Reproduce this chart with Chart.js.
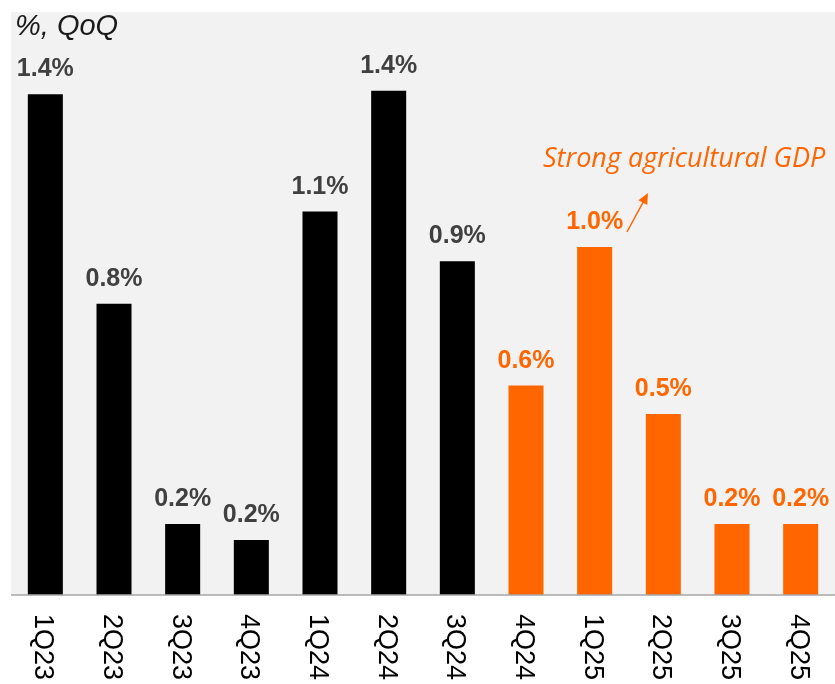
<!DOCTYPE html>
<html>
<head>
<meta charset="utf-8">
<title>GDP growth, QoQ</title>
<script src="https://cdn.jsdelivr.net/npm/chart.js@4/dist/chart.umd.min.js"></script>
<style>
    html, body { margin: 0; padding: 0; background: #ffffff; }
    #wrap { width: 835px; height: 684px; position: relative; }
</style>
</head>
<body>
<div id="wrap"><canvas id="gdp-chart"></canvas></div>
<script>
// Quarterly growth, % QoQ
const quarters = ['1Q23', '2Q23', '3Q23', '4Q23', '1Q24', '2Q24', '3Q24', '4Q24', '1Q25', '2Q25', '3Q25', '4Q25'];
const growth = [1.41, 0.82, 0.20, 0.155, 1.08, 1.42, 0.94, 0.59, 0.98, 0.51, 0.20, 0.20];
// quarters from 4Q24 on are highlighted
const highlightFrom = 7;
const yMin = 0;
const yMax = 1.642;

const BLACK = '#000000';
const ORANGE = '#ff6600';
const LABEL_GREY = '#404040';

const barColors = growth.map((v, i) => i >= highlightFrom ? ORANGE : BLACK);
const labelColors = growth.map((v, i) => i >= highlightFrom ? ORANGE : LABEL_GREY);

// Grey plot background
const plotBackground = {
    id: 'plotBackground',
    beforeDraw(chart) {
        const { ctx, chartArea } = chart;
        ctx.save();
        ctx.fillStyle = '#f2f2f2';
        ctx.fillRect(chartArea.left, chartArea.top, chartArea.right - chartArea.left, chartArea.bottom - chartArea.top);
        ctx.restore();
    }
};

// Value labels, axis line, rotated quarter labels and the note
const annotations = {
    id: 'annotations',
    afterDatasetsDraw(chart) {
        const { ctx, chartArea } = chart;
        const xScale = chart.scales.x;
        const meta = chart.getDatasetMeta(0);

        ctx.save();

        // baseline
        ctx.strokeStyle = '#a6a6a6';
        ctx.lineWidth = 1.5;
        ctx.beginPath();
        ctx.moveTo(chartArea.left, chartArea.bottom);
        ctx.lineTo(chartArea.right, chartArea.bottom);
        ctx.stroke();

        // values above bars
        ctx.font = 'bold 25px "Liberation Sans", Arial, sans-serif';
        ctx.textAlign = 'center';
        ctx.textBaseline = 'alphabetic';
        meta.data.forEach((bar, i) => {
            ctx.fillStyle = labelColors[i];
            ctx.fillText(growth[i].toFixed(1) + '%', bar.x, bar.y - 18);
        });

        // quarter labels, turned clockwise
        ctx.font = '27px "Liberation Sans", Arial, sans-serif';
        ctx.fillStyle = '#000000';
        ctx.textAlign = 'left';
        quarters.forEach((q, i) => {
            const px = xScale.getPixelForTick(i);
            ctx.save();
            ctx.translate(px - 10, chartArea.bottom + 19);
            ctx.rotate(Math.PI / 2);
            ctx.fillText(q, 0, 0);
            ctx.restore();
        });

        // unit title
        ctx.font = 'italic 29px "Liberation Sans", Arial, sans-serif';
        ctx.fillStyle = '#1a1a1a';
        ctx.fillText('%, QoQ', 15, 35);

        // note on 1Q25
        ctx.font = 'italic 27px "Open Sans", sans-serif';
        ctx.fillStyle = ORANGE;
        ctx.fillText('Strong agricultural GDP', 543, 167);

        // arrow pointing to the note
        const from = { x: 627, y: 232 };
        const to = { x: 648, y: 193 };
        const ang = Math.atan2(to.y - from.y, to.x - from.x);
        ctx.strokeStyle = ORANGE;
        ctx.lineWidth = 1.5;
        ctx.beginPath();
        ctx.moveTo(from.x, from.y);
        ctx.lineTo(to.x - 8 * Math.cos(ang), to.y - 8 * Math.sin(ang));
        ctx.stroke();
        ctx.beginPath();
        ctx.moveTo(to.x, to.y);
        ctx.lineTo(to.x - 11 * Math.cos(ang) + 5 * Math.sin(ang), to.y - 11 * Math.sin(ang) - 5 * Math.cos(ang));
        ctx.lineTo(to.x - 11 * Math.cos(ang) - 5 * Math.sin(ang), to.y - 11 * Math.sin(ang) + 5 * Math.cos(ang));
        ctx.closePath();
        ctx.fillStyle = ORANGE;
        ctx.fill();

        ctx.restore();
    }
};

new Chart(document.getElementById('gdp-chart'), {
    type: 'bar',
    data: {
        labels: quarters,
        datasets: [{
            data: growth,
            backgroundColor: barColors,
            borderWidth: 0,
            barPercentage: 0.51,
            categoryPercentage: 1.0
        }]
    },
    options: {
        responsive: true,
        maintainAspectRatio: false,
        animation: false,
        layout: {
            padding: { left: 11, top: 12, right: 0, bottom: 89 }
        },
        plugins: {
            legend: { display: false },
            tooltip: { enabled: false }
        },
        scales: {
            x: { display: false },
            y: { display: false, min: yMin, max: yMax }
        }
    },
    plugins: [plotBackground, annotations]
});
</script>
</body>
</html>
